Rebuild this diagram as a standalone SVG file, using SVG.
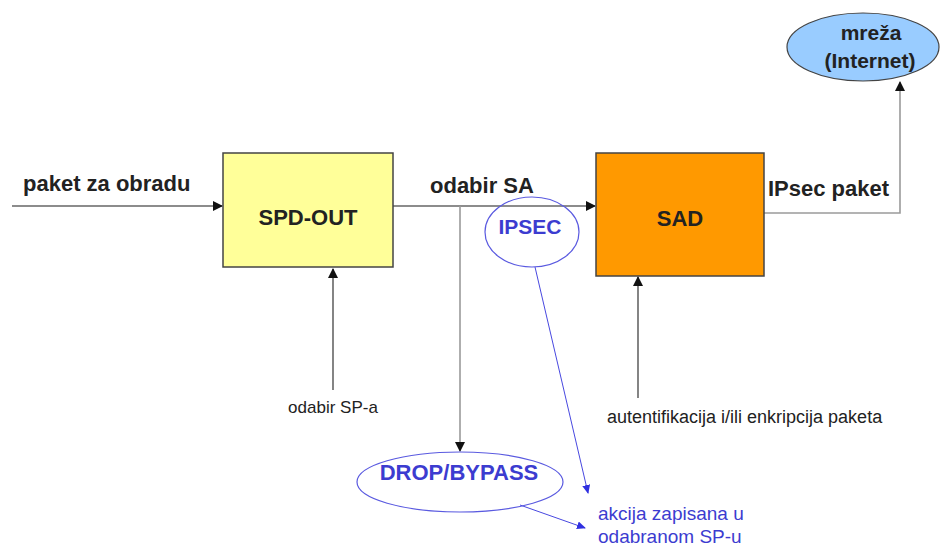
<svg xmlns="http://www.w3.org/2000/svg" width="941" height="549" viewBox="0 0 941 549">
<style>
.lbl{font-family:"Liberation Sans",Arial,sans-serif;fill:#222}
.b{font-weight:bold}
.blue{fill:#3c3cd0}
.ln{stroke:#666;stroke-width:1.6;fill:none}
.lg{stroke:#9a9a9a;stroke-width:1.6;fill:none}
.bl{stroke:#4848e0;stroke-width:1;fill:none}
</style>
<defs>
<marker id="ah" markerWidth="10" markerHeight="10" refX="9" refY="5" orient="auto" markerUnits="userSpaceOnUse"><path d="M0,0 L10,5 L0,10 Z" fill="#111"/></marker>
<marker id="ahb" markerWidth="9" markerHeight="8" refX="8" refY="4" orient="auto" markerUnits="userSpaceOnUse"><path d="M0,0 L9,4 L0,8 Z" fill="#3030e0"/></marker>
</defs>
<rect width="941" height="549" fill="#fff"/>
<g id="connectors">
<line class="ln" x1="12" y1="206" x2="222" y2="206" marker-end="url(#ah)"/>
<line class="ln" x1="393" y1="206" x2="595" y2="206" marker-end="url(#ah)"/>
<line class="lg" x1="460" y1="206" x2="460" y2="451" marker-end="url(#ah)"/>
<line class="ln" x1="333" y1="390" x2="333" y2="269" marker-end="url(#ah)"/>
<line class="ln" x1="638" y1="398" x2="638" y2="277" marker-end="url(#ah)"/>
<polyline class="lg" points="764,213 900,213 900,82" marker-end="url(#ah)"/>
<line class="bl" x1="535" y1="267" x2="588" y2="493" marker-end="url(#ahb)"/>
<line class="bl" x1="520" y1="505" x2="585" y2="528" marker-end="url(#ahb)"/>
</g>
<g id="spd-out">
<rect x="223" y="153" width="170" height="114" fill="#ffff99" stroke="#444" stroke-width="1.5"/>
<text class="lbl b" x="308" y="225" font-size="22" text-anchor="middle">SPD-OUT</text>
</g>
<g id="sad">
<rect x="596" y="153" width="168" height="123" fill="#ff9900" stroke="#444" stroke-width="1.5"/>
<text class="lbl b" x="680" y="226" font-size="22" text-anchor="middle">SAD</text>
</g>
<g id="mreza">
<ellipse cx="863" cy="47" rx="76" ry="34" fill="#99ccff" stroke="#444" stroke-width="1.2"/>
<text class="lbl b" x="871" y="40" font-size="21" text-anchor="middle">mreža</text>
<text class="lbl b" x="870" y="68" font-size="21" text-anchor="middle">(Internet)</text>
</g>
<g id="ipsec">
<ellipse cx="532" cy="232" rx="47" ry="35" fill="none" stroke="#5a5ae0" stroke-width="1.2"/>
<text class="lbl b blue" x="530" y="234" font-size="21" text-anchor="middle">IPSEC</text>
</g>
<g id="drop-bypass">
<ellipse cx="460" cy="482" rx="103" ry="30" fill="none" stroke="#5a5ae0" stroke-width="1.2"/>
<text class="lbl b blue" x="459" y="480" font-size="22" text-anchor="middle">DROP/BYPASS</text>
</g>
<g id="labels">
<text class="lbl b" x="23" y="191" font-size="22">paket za obradu</text>
<text class="lbl b" x="430" y="193" font-size="22">odabir SA</text>
<text class="lbl b" x="768" y="196" font-size="22">IPsec paket</text>
<text class="lbl" x="333" y="413" font-size="17" text-anchor="middle">odabir SP-a</text>
<text class="lbl" x="607" y="423" font-size="18">autentifikacija i/ili enkripcija paketa</text>
<text class="lbl blue" x="598" y="520" font-size="19">akcija zapisana u</text>
<text class="lbl blue" x="598" y="543" font-size="19">odabranom SP-u</text>
</g>
</svg>
